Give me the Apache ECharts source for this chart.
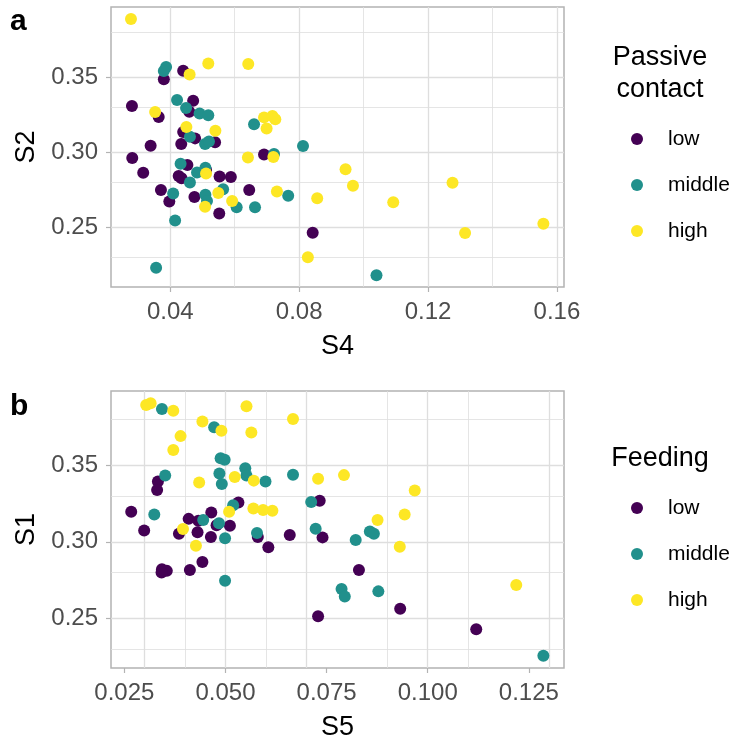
<!DOCTYPE html>
<html>
<head>
<meta charset="utf-8">
<script src="https://cdn.jsdelivr.net/npm/echarts@6/dist/echarts.min.js"></script>
<style>
  html, body { margin: 0; padding: 0; background: #ffffff; }
  #chart { width: 741px; height: 742px; }
</style>
</head>
<body>
<div id="chart"></div>
<script>
// ---- Panel a: S4 (x) vs S2 (y), coloured by passive contact level ----
const contactLowS4 = [0.0380, 0.0440, 0.0281, 0.0364, 0.0471, 0.0459, 0.0440, 0.0477, 0.0434, 0.0539, 0.0339, 0.0282, 0.0691, 0.0316, 0.0453, 0.0426, 0.0435, 0.0553, 0.0588, 0.0371, 0.0397, 0.0475, 0.0645, 0.0552, 0.0842, 0.0511];
const contactLowS2 = [0.3485, 0.3542, 0.3307, 0.3233, 0.3342, 0.3269, 0.3133, 0.3091, 0.3053, 0.3065, 0.3042, 0.2960, 0.2983, 0.2862, 0.2913, 0.2840, 0.2825, 0.2837, 0.2833, 0.2747, 0.2670, 0.2700, 0.2747, 0.2590, 0.2462, 0.2880];
const contactMidS4 = [0.0387, 0.0380, 0.0421, 0.0449, 0.0491, 0.0518, 0.0461, 0.0508, 0.0520, 0.0660, 0.0812, 0.0722, 0.0432, 0.0483, 0.0509, 0.0461, 0.0409, 0.0509, 0.0514, 0.0564, 0.0606, 0.0663, 0.0766, 0.0415, 0.0356, 0.1040];
const contactMidS2 = [0.3567, 0.3540, 0.3347, 0.3293, 0.3257, 0.3245, 0.3102, 0.3053, 0.3070, 0.3185, 0.3040, 0.2987, 0.2922, 0.2863, 0.2895, 0.2797, 0.2723, 0.2715, 0.2673, 0.2751, 0.2631, 0.2631, 0.2709, 0.2543, 0.2229, 0.2178];
const contactHighS4 = [0.0278, 0.0460, 0.0518, 0.0642, 0.0353, 0.0450, 0.0540, 0.0691, 0.0717, 0.0726, 0.0699, 0.0641, 0.0720, 0.0511, 0.0549, 0.0592, 0.0508, 0.0731, 0.0856, 0.0827, 0.0944, 0.0967, 0.1092, 0.1276, 0.1315, 0.1558];
const contactHighS2 = [0.3887, 0.3517, 0.3590, 0.3587, 0.3267, 0.3167, 0.3142, 0.3231, 0.3240, 0.3218, 0.3157, 0.2963, 0.2967, 0.2857, 0.2727, 0.2673, 0.2635, 0.2737, 0.2691, 0.2298, 0.2885, 0.2775, 0.2665, 0.2795, 0.2460, 0.2522];

// ---- Panel b: S5 (x) vs S1 (y), coloured by feeding level ----
const feedLowS5 = [0.0333, 0.0331, 0.0267, 0.0409, 0.0433, 0.0465, 0.0478, 0.0511, 0.0532, 0.0733, 0.0299, 0.0385, 0.0431, 0.0464, 0.0580, 0.0606, 0.0659, 0.0740, 0.0343, 0.0355, 0.0342, 0.0412, 0.0443, 0.0729, 0.0830, 0.0932, 0.1120];
const feedLowS1 = [0.3395, 0.3339, 0.3196, 0.3150, 0.3138, 0.3192, 0.3108, 0.3105, 0.3257, 0.3268, 0.3074, 0.3052, 0.3063, 0.3031, 0.3031, 0.2965, 0.3044, 0.3029, 0.2820, 0.2810, 0.2799, 0.2816, 0.2868, 0.2513, 0.2816, 0.2562, 0.2429];
const feedMidS5 = [0.0343, 0.0472, 0.0488, 0.0498, 0.0549, 0.0552, 0.0351, 0.0485, 0.0491, 0.0599, 0.0667, 0.0324, 0.0445, 0.0484, 0.0519, 0.0712, 0.0499, 0.0578, 0.0723, 0.0499, 0.0857, 0.0867, 0.0822, 0.0787, 0.0795, 0.0878, 0.1286];
const feedMidS1 = [0.3868, 0.3749, 0.3546, 0.3537, 0.3481, 0.3433, 0.3433, 0.3446, 0.3378, 0.3395, 0.3439, 0.3179, 0.3143, 0.3121, 0.3239, 0.3261, 0.3023, 0.3057, 0.3085, 0.2745, 0.3068, 0.3052, 0.3012, 0.2691, 0.2642, 0.2676, 0.2255];
const feedHighS5 = [0.0304, 0.0315, 0.0371, 0.0443, 0.0490, 0.0552, 0.0564, 0.0667, 0.0389, 0.0371, 0.0435, 0.0523, 0.0570, 0.0729, 0.0509, 0.0569, 0.0593, 0.0616, 0.0395, 0.0427, 0.0793, 0.0968, 0.0943, 0.0876, 0.0931, 0.1219];
const feedHighS1 = [0.3895, 0.3906, 0.3857, 0.3786, 0.3726, 0.3887, 0.3715, 0.3803, 0.3691, 0.3600, 0.3388, 0.3423, 0.3400, 0.3412, 0.3197, 0.3218, 0.3208, 0.3203, 0.3084, 0.2975, 0.3436, 0.3336, 0.3179, 0.3143, 0.2967, 0.2717];

// ---- Levels, colours, ticks ----
const levels = ['low', 'middle', 'high'];
const levelColors = ['#440154', '#21908C', '#FDE725'];

const s4Ticks = [0.04, 0.08, 0.12, 0.16];
const s4Minor = [0.06, 0.10, 0.14];
const s2Ticks = [0.25, 0.30, 0.35];
const s2Minor = [0.225, 0.275, 0.325, 0.375];
const s5Ticks = [0.025, 0.050, 0.075, 0.100, 0.125];
const s5Minor = [0.0375, 0.0625, 0.0875, 0.1125];
const s1Ticks = [0.25, 0.30, 0.35];
const s1Minor = [0.225, 0.275, 0.325, 0.375];

const FONT = '"Liberation Sans", Arial, sans-serif';
const GRID_COLOR = '#dedede';
const FRAME_COLOR = '#b3b3b3';

function zip(xs, ys) { return xs.map((x, i) => [x, ys[i]]); }

function valueAxis(name, range, ticks, digits, gap, labelMargin) {
  return {
    type: 'value',
    min: range[0],
    max: range[1],
    name: name,
    nameLocation: 'middle',
    nameGap: gap,
    nameTextStyle: { fontFamily: FONT, fontSize: 27, color: '#000000' },
    axisLine: { show: false },
    splitLine: { show: false },
    axisTick: { show: true, length: 5, customValues: ticks, lineStyle: { color: FRAME_COLOR, width: 1.2 } },
    axisLabel: {
      customValues: ticks,
      margin: labelMargin,
      fontFamily: FONT,
      fontSize: 24,
      color: '#4d4d4d',
      formatter: v => Number(v).toFixed(digits)
    }
  };
}

function gridLines(xMajor, xMinor, yMajor, yMinor) {
  const data = [];
  xMajor.forEach(v => data.push({ xAxis: v, lineStyle: { width: 1.3 } }));
  xMinor.forEach(v => data.push({ xAxis: v, lineStyle: { width: 0.8 } }));
  yMajor.forEach(v => data.push({ yAxis: v, lineStyle: { width: 1.3 } }));
  yMinor.forEach(v => data.push({ yAxis: v, lineStyle: { width: 0.8 } }));
  return data;
}

function gridSeries(idx, lines) {
  return {
    type: 'scatter',
    xAxisIndex: idx,
    yAxisIndex: idx,
    data: [],
    silent: true,
    markLine: {
      z: 1,
      silent: true,
      symbol: 'none',
      animation: false,
      label: { show: false },
      lineStyle: { color: GRID_COLOR, type: 'solid' },
      emphasis: { disabled: true },
      data: lines
    }
  };
}

function pointSeries(idx, level, xs, ys) {
  const li = levels.indexOf(level);
  return {
    name: level,
    type: 'scatter',
    xAxisIndex: idx,
    yAxisIndex: idx,
    z: 3,
    symbol: 'circle',
    symbolSize: 12,
    itemStyle: { color: levelColors[li], opacity: 1 },
    data: zip(xs, ys)
  };
}

function legendFor(top) {
  return {
    orient: 'vertical',
    left: 626,
    top: top,
    data: levels,
    icon: 'circle',
    itemWidth: 12,
    itemHeight: 12,
    itemGap: 24,
    selectedMode: false,
    textStyle: { fontFamily: FONT, fontSize: 21, color: '#000000', lineHeight: 22, padding: [0, 0, 0, 20] }
  };
}

const chart = echarts.init(document.getElementById('chart'), null, { renderer: 'canvas' });

chart.setOption({
  animation: false,
  backgroundColor: '#ffffff',
  grid: [
    { left: 111, top: 7, width: 453, height: 280, show: true, borderColor: FRAME_COLOR, borderWidth: 1.5, backgroundColor: 'transparent' },
    { left: 111, top: 391, width: 453, height: 281, show: true, borderColor: FRAME_COLOR, borderWidth: 1.5, backgroundColor: 'transparent' }
  ],
  xAxis: [
    Object.assign(valueAxis('S4', [0.0216, 0.1622], s4Ticks, 2, 46, 13), { gridIndex: 0 }),
    Object.assign(valueAxis('S5', [0.0217, 0.1337], s5Ticks, 3, 46, 13), { gridIndex: 1 })
  ],
  yAxis: [
    Object.assign(valueAxis('S2', [0.2100, 0.3967], s2Ticks, 2, 63, 13), { gridIndex: 0 }),
    Object.assign(valueAxis('S1', [0.2175, 0.3986], s1Ticks, 2, 63, 13), { gridIndex: 1 })
  ],
  legend: [legendFor(123), legendFor(492)],
  graphic: [
    { type: 'text', left: 10, top: 7, style: { text: 'a', font: 'bold 30px "Liberation Sans", Arial, sans-serif', fill: '#000000' } },
    { type: 'text', left: 10, top: 392, style: { text: 'b', font: 'bold 30px "Liberation Sans", Arial, sans-serif', fill: '#000000' } },
    { type: 'text', x: 660, y: 42, style: { text: 'Passive\ncontact', font: '27px ' + FONT, fill: '#000000', align: 'center', lineHeight: 32 } },
    { type: 'text', x: 660, y: 445, style: { text: 'Feeding', font: '27px ' + FONT, fill: '#000000', align: 'center' } }
  ],
  series: [
    gridSeries(0, gridLines(s4Ticks, s4Minor, s2Ticks, s2Minor)),
    gridSeries(1, gridLines(s5Ticks, s5Minor, s1Ticks, s1Minor)),
    pointSeries(0, 'low', contactLowS4, contactLowS2),
    pointSeries(0, 'middle', contactMidS4, contactMidS2),
    pointSeries(0, 'high', contactHighS4, contactHighS2),
    pointSeries(1, 'low', feedLowS5, feedLowS1),
    pointSeries(1, 'middle', feedMidS5, feedMidS1),
    pointSeries(1, 'high', feedHighS5, feedHighS1)
  ]
});
</script>
</body>
</html>
